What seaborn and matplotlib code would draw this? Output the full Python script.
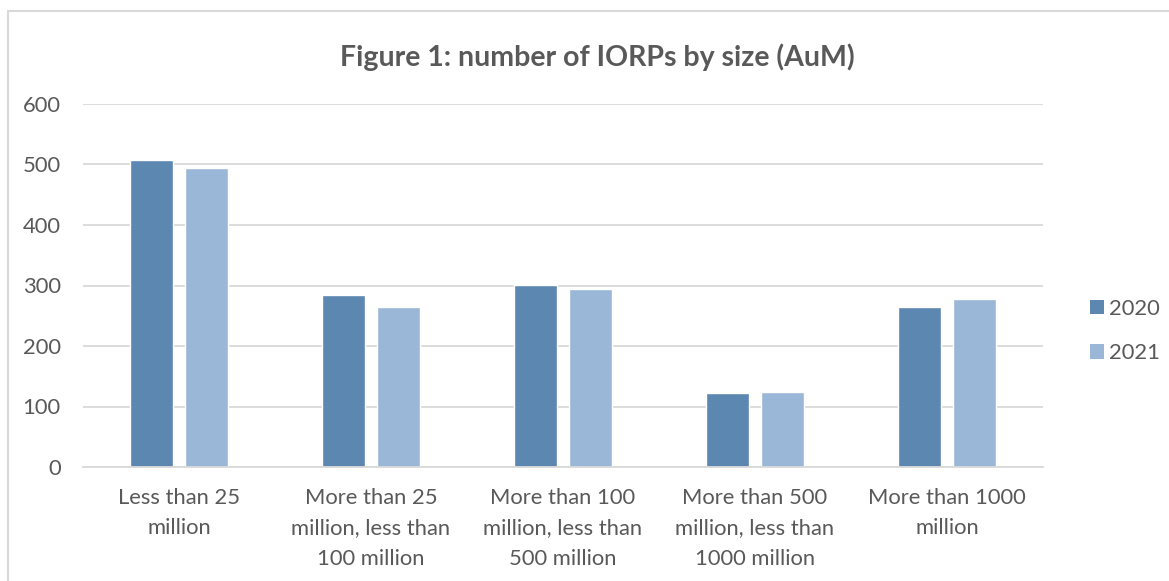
import matplotlib
matplotlib.use("Agg")
import matplotlib.pyplot as plt
from matplotlib.lines import Line2D
from matplotlib.patches import Patch
import seaborn as sns
import pandas as pd

categories = [
    "Less than 25\nmillion",
    "More than 25\nmillion, less than\n100 million",
    "More than 100\nmillion, less than\n500 million",
    "More than 500\nmillion, less than\n1000 million",
    "More than 1000\nmillion",
]
years = ["2020", "2021"]
iorps_2020 = [507, 284, 301, 123, 265]
iorps_2021 = [494, 265, 295, 124, 277]
y_ticks = [0, 100, 200, 300, 400, 500, 600]

colors = {"2020": "#5b87b1", "2021": "#9ab7d7"}
text_color = "#595959"
grid_color = "#d9d9d9"

df = pd.DataFrame({
    "category": categories * 2,
    "year": [years[0]] * len(categories) + [years[1]] * len(categories),
    "count": iorps_2020 + iorps_2021,
})

sns.set_theme(style="white")
plt.rcParams["font.family"] = ["Lato", "DejaVu Sans"]

fig = plt.figure(figsize=(11.69, 5.81), dpi=100)
ax = fig.add_axes([83 / 1169, 1 - 467 / 581, 960 / 1169, 363 / 581])

sns.barplot(data=df, x="category", y="count", hue="year", order=categories,
            hue_order=years, palette=colors, width=0.573, gap=0.218,
            saturation=1, legend=False, ax=ax)

ax.set_ylim(0, 600)
ax.set_xlim(-0.5, len(categories) - 0.5)
ax.set_yticks(y_ticks)
ax.set_yticklabels([str(v) for v in y_ticks])
ax.yaxis.grid(True, color=grid_color, linewidth=1.3)
ax.set_axisbelow(True)
for side in ["top", "right", "left"]:
    ax.spines[side].set_visible(False)
ax.spines["bottom"].set_color(grid_color)
ax.spines["bottom"].set_linewidth(1.3)
ax.set_xlabel("")
ax.set_ylabel("")
ax.tick_params(axis="y", length=0, pad=16, labelsize=15.8, labelcolor=text_color)
ax.tick_params(axis="x", length=0, pad=15, labelsize=15.8, labelcolor=text_color)
for lbl in ax.get_xticklabels():
    lbl.set_linespacing(1.65)

fig.text(597 / 1169, 1 - 57 / 581, "Figure 1: number of IORPs by size (AuM)",
         ha="center", va="center", fontsize=20.5, fontweight="bold", color=text_color)

handles = [Patch(facecolor=colors[y], edgecolor="none", label=y) for y in years]
fig.legend(handles=handles, loc="center left", bbox_to_anchor=(1070 / 1169, 1 - 331 / 581),
           frameon=False, fontsize=15.8, labelcolor=text_color, handlelength=0.63,
           handleheight=0.63, handletextpad=0.25, labelspacing=1.1)

# outer chart frame (top and left edges)
fig.add_artist(Line2D([7.5 / 1169, 1.0], [1 - 11 / 581, 1 - 11 / 581], color=grid_color, linewidth=1.5))
fig.add_artist(Line2D([7.5 / 1169, 7.5 / 1169], [0.0, 1 - 11 / 581], color=grid_color, linewidth=1.5))

fig.savefig("out.png", dpi=100, facecolor="white")
